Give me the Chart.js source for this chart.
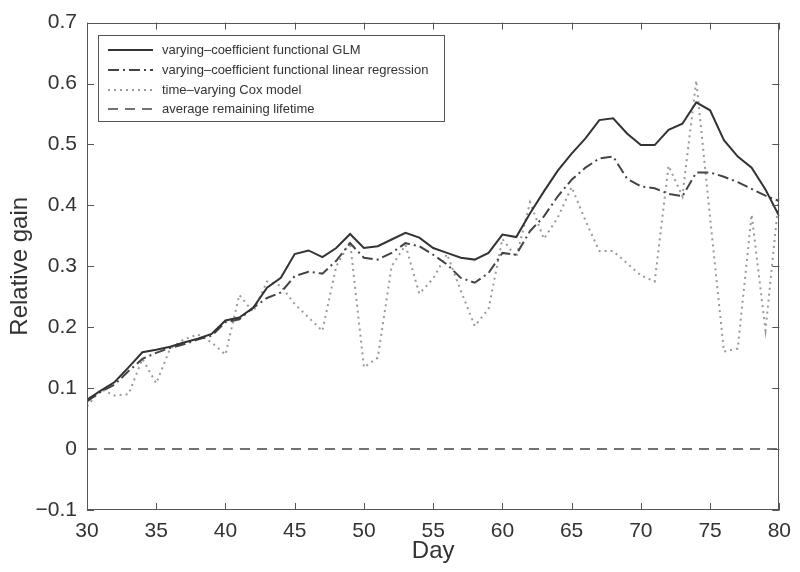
<!DOCTYPE html>
<html>
<head>
<meta charset="utf-8">
<title>Relative gain by day</title>
<script src="https://cdn.jsdelivr.net/npm/chart.js@4/dist/chart.umd.min.js"></script>
<style>
  html, body { margin: 0; padding: 0; background: #fff; }
  #wrap { width: 800px; height: 572px; }
</style>
</head>
<body>
<div id="wrap"><canvas id="gainChart" width="800" height="572"></canvas></div>
<script>
  const days = [30,31,32,33,34,35,36,37,38,39,40,41,42,43,44,45,46,47,48,49,50,51,52,53,54,55,56,57,58,59,60,61,62,63,64,65,66,67,68,69,70,71,72,73,74,75,76,77,78,79,80];

  const glm = [0.081,0.096,0.110,0.134,0.159,0.163,0.168,0.175,0.181,0.189,
               0.211,0.216,0.232,0.265,0.281,0.320,0.326,0.315,0.330,0.353,
               0.330,0.333,0.344,0.355,0.347,0.330,0.322,0.314,0.311,0.322,
               0.352,0.348,0.387,0.423,0.457,0.485,0.510,0.540,0.543,0.518,
               0.499,0.499,0.524,0.534,0.569,0.556,0.507,0.480,0.462,0.426,0.382];

  const linReg = [0.078,0.094,0.106,0.128,0.148,0.158,0.166,0.172,0.180,0.186,
                  0.208,0.213,0.232,0.248,0.257,0.284,0.291,0.288,0.309,0.338,
                  0.314,0.311,0.322,0.338,0.333,0.319,0.303,0.281,0.273,0.289,
                  0.322,0.319,0.358,0.382,0.415,0.442,0.462,0.477,0.480,0.444,
                  0.431,0.428,0.419,0.415,0.454,0.454,0.447,0.438,0.427,0.416,0.407];

  const cox = [0.070,0.098,0.088,0.090,0.148,0.108,0.165,0.180,0.188,0.175,
               0.155,0.253,0.225,0.275,0.268,0.238,0.216,0.194,0.300,0.340,
               0.134,0.150,0.300,0.335,0.255,0.280,0.320,0.260,0.202,0.230,
               0.345,0.315,0.405,0.345,0.380,0.430,0.375,0.325,0.325,0.305,
               0.285,0.275,0.465,0.415,0.605,0.380,0.160,0.165,0.385,0.195,0.420];

  const avgLifetime = [0,0,0,0,0,0,0,0,0,0,0,0,0,0,0,0,0,0,0,0,0,0,0,0,0,0,
                       0,0,0,0,0,0,0,0,0,0,0,0,0,0,0,0,0,0,0,0,0,0,0,0,0];

  const seriesNames = [
    'varying\u2013coefficient functional GLM',
    'varying\u2013coefficient functional linear regression',
    'time\u2013varying Cox model',
    'average remaining lifetime'
  ];

  const xTicks = [30,35,40,45,50,55,60,65,70,75,80];
  const yTicks = [-0.1,0,0.1,0.2,0.3,0.4,0.5,0.6,0.7];

  const FONT = "'Liberation Sans', Arial, Helvetica, sans-serif";
  const pts = arr => days.map((d, i) => ({ x: d, y: arr[i] }));

  function fmtTick(v){
    if (Math.abs(v) < 1e-9) return '0';
    return (v < 0 ? '\u2212' : '') + Math.abs(v).toFixed(1);
  }

  // frame with inward ticks on all four sides (matlab look)
  const frameTicks = {
    id: 'frameTicks',
    afterDatasetsDraw(chart){
      const { ctx, chartArea: a, scales: { x, y } } = chart;
      const len = 7;
      ctx.save();
      ctx.strokeStyle = '#555';
      ctx.lineWidth = 1;
      ctx.strokeRect(Math.round(a.left) + 0.5, Math.round(a.top) + 0.5, Math.round(a.width) - 1, Math.round(a.height) - 1);
      ctx.beginPath();
      xTicks.forEach(v => {
        const px = Math.round(x.getPixelForValue(v)) + 0.5;
        ctx.moveTo(px, a.top); ctx.lineTo(px, a.top + len);
        ctx.moveTo(px, a.bottom); ctx.lineTo(px, a.bottom - len);
      });
      yTicks.forEach(v => {
        const py = Math.round(y.getPixelForValue(v)) + 0.5;
        ctx.moveTo(a.left, py); ctx.lineTo(a.left + len, py);
        ctx.moveTo(a.right, py); ctx.lineTo(a.right - len, py);
      });
      ctx.stroke();
      ctx.restore();
    }
  };

  // boxed legend inside the plot, top-left
  const boxLegend = {
    id: 'boxLegend',
    afterDraw(chart){
      const { ctx } = chart;
      const box = { x: 98.5, y: 35.5, w: 346, h: 86 };
      const rowY = [50, 70, 90, 109];
      ctx.save();
      ctx.fillStyle = '#fff';
      ctx.fillRect(box.x, box.y, box.w, box.h);
      ctx.strokeStyle = '#555';
      ctx.lineWidth = 1;
      ctx.strokeRect(box.x, box.y, box.w, box.h);
      chart.data.datasets.forEach((ds, i) => {
        const yy = rowY[i];
        ctx.beginPath();
        ctx.setLineDash(ds.borderDash || []);
        ctx.strokeStyle = ds.borderColor;
        ctx.lineWidth = ds.borderWidth;
        ctx.moveTo(108, yy);
        ctx.lineTo(153, yy);
        ctx.stroke();
        ctx.setLineDash([]);
        ctx.fillStyle = '#333';
        ctx.font = `13px ${FONT}`;
        ctx.textBaseline = 'middle';
        ctx.fillText(ds.label, 162, yy);
      });
      ctx.restore();
    }
  };

  new Chart(document.getElementById('gainChart'), {
    type: 'line',
    data: {
      datasets: [
        { label: seriesNames[0], data: pts(glm), borderColor: '#333', borderWidth: 2, borderDash: [] },
        { label: seriesNames[1], data: pts(linReg), borderColor: '#444', borderWidth: 2, borderDash: [11, 4, 2, 4] },
        { label: seriesNames[2], data: pts(cox), borderColor: '#999', borderWidth: 2, borderDash: [2, 4] },
        { label: seriesNames[3], data: pts(avgLifetime), borderColor: '#444', borderWidth: 1.5, borderDash: [10, 7] }
      ]
    },
    options: {
      responsive: false,
      animation: false,
      events: [],
      layout: { padding: { top: 21, right: 20, left: 0, bottom: 0 } },
      elements: {
        point: { radius: 0 },
        line: { tension: 0, fill: false, borderCapStyle: 'butt' }
      },
      plugins: {
        legend: { display: false },
        tooltip: { enabled: false }
      },
      scales: {
        x: {
          type: 'linear',
          min: 30, max: 80,
          afterFit: s => { s.height = 62; },
          afterBuildTicks: s => { s.ticks = xTicks.map(v => ({ value: v })); },
          grid: { display: false, drawTicks: false },
          border: { display: false },
          ticks: { padding: 9, color: '#333', font: { family: FONT, size: 21 }, maxRotation: 0 },
          title: { display: true, text: 'Day', color: '#333', font: { family: FONT, size: 24 }, padding: { top: 0, bottom: 6 } }
        },
        y: {
          min: -0.1, max: 0.7,
          afterFit: s => { s.width = 87; },
          afterBuildTicks: s => { s.ticks = yTicks.map(v => ({ value: v })); },
          grid: { display: false, drawTicks: false },
          border: { display: false },
          ticks: { padding: 10, color: '#333', font: { family: FONT, size: 21 }, callback: v => fmtTick(v) },
          title: { display: true, text: 'Relative gain', color: '#333', font: { family: FONT, size: 24 }, padding: { top: 6, bottom: 0 } }
        }
      }
    },
    plugins: [frameTicks, boxLegend]
  });
</script>
</body>
</html>
